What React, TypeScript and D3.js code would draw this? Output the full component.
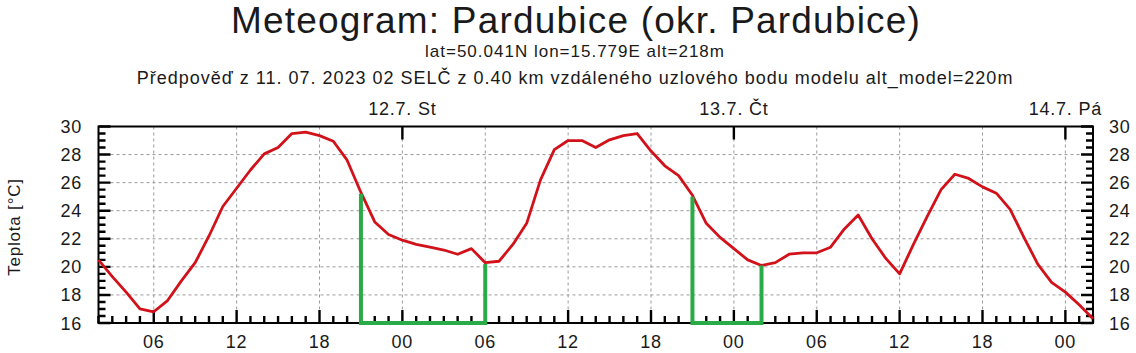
import React from "react";
import * as d3 from "d3";

// Forecast start: 11.7. 02:00 (hours counted from 11.7. 00:00)
const startHour = 2;
const endHour = 74;

// Hourly temperature [°C] from 11.7. 02:00 to 14.7. 02:00
const temperature = [
  20.5, 19.3, 18.2, 17.0, 16.8, 17.6, 19.0, 20.3, 22.2, 24.3,
  25.6, 26.9, 28.05, 28.5, 29.5, 29.6, 29.35, 28.95, 27.6, 25.3,
  23.2, 22.3, 21.9, 21.6, 21.4, 21.2, 20.9, 21.3, 20.3, 20.4,
  21.6, 23.1, 26.2, 28.35, 29.0, 29.0, 28.5, 29.05, 29.35, 29.5,
  28.25, 27.2, 26.5, 25.1, 23.1, 22.1, 21.3, 20.5, 20.1, 20.3,
  20.9, 21.0, 21.0, 21.4, 22.7, 23.7, 22.0, 20.6, 19.5, 21.6,
  23.6, 25.5, 26.6, 26.3, 25.7, 25.25, 24.1, 22.1, 20.2, 18.9,
  18.2, 17.3, 16.3,
];

// Green night markers
const nightStartHour = [21, 45];
const nightEndHour = [30, 50];
const nightStartTemp = [25.2, 25.0];
const nightEndTemp = [20.2, 20.1];

// Day labels (at midnight)
const dayHours = [24, 48, 72];
const dayLabels = ["12.7. St", "13.7. Čt", "14.7. Pá"];

// X tick labels
const xTickHours = [6, 12, 18, 24, 30, 36, 42, 48, 54, 60, 66, 72];
const xTickLabels = ["06", "12", "18", "00", "06", "12", "18", "00", "06", "12", "18", "00"];

// Y ticks
const yTicks = [16, 18, 20, 22, 24, 26, 28, 30];

const titleText = "Meteogram: Pardubice (okr. Pardubice)";
const subtitle1 = "lat=50.041N lon=15.779E alt=218m";
const subtitle2 =
  "Předpověď z 11. 07. 2023 02 SELČ z 0.40 km vzdáleného uzlového bodu modelu alt_model=220m";
const yTitle = "Teplota [°C]";

const W = 1136;
const H = 353;
const left = 98.5;
const right = 1093;
const top = 126.5;
const bottom = 323;

const FONT = "'Liberation Sans', Arial, Helvetica, sans-serif";
const TEXT = "#1a1a1a";

export default function App() {
  const x = d3.scaleLinear().domain([startHour, endHour]).range([left, right]);
  const y = d3.scaleLinear().domain([16, 30]).range([bottom, top]);

  const points = temperature.map((t, i) => [startHour + i, t] as [number, number]);
  const line = d3
    .line<[number, number]>()
    .x((d) => x(d[0]))
    .y((d) => y(d[1]));

  const hourTicks = d3.range(startHour, endHour + 1);
  const halfDegTicks = d3.range(0, 29).map((i) => 16 + i * 0.5);
  const gridHours = xTickHours.filter((h) => h > startHour && h < endHour);
  const gridTemps = yTicks.filter((t) => t > 16 && t < 30);

  // build tick path
  let tickPath = "";
  halfDegTicks.forEach((t, i) => {
    const len = i % 4 === 0 ? 12 : 7;
    const yy = y(t);
    tickPath += `M${left},${yy}H${left + len}M${right},${yy}H${right - len}`;
  });
  hourTicks.forEach((h) => {
    const len = h % 6 === 0 ? 13 : 7;
    const xx = x(h);
    tickPath += `M${xx},${bottom}V${bottom - len}`;
  });
  dayHours.forEach((h) => {
    const xx = x(h);
    tickPath += `M${xx},${top}V${top + 13}`;
  });

  let gridPath = "";
  gridTemps.forEach((t) => {
    gridPath += `M${left},${y(t)}H${right}`;
  });
  gridHours.forEach((h) => {
    gridPath += `M${x(h)},${top}V${bottom}`;
  });

  return (
    <svg
      width={W}
      height={H}
      style={{ position: "absolute", left: 0, top: 0, background: "#fff" }}
      fontFamily={FONT}
    >
      <rect x={0} y={0} width={W} height={H} fill="#fff" />
      {/* titles */}
      <text x={576} y={33} textAnchor="middle" fontSize={37} letterSpacing={1.2} fill={TEXT}>
        {titleText}
      </text>
      <text x={575} y={57} textAnchor="middle" fontSize={17} letterSpacing={1} fill={TEXT}>
        {subtitle1}
      </text>
      <text x={575} y={84} textAnchor="middle" fontSize={18} letterSpacing={1} fill={TEXT}>
        {subtitle2}
      </text>

      {/* grid */}
      <path d={gridPath} fill="none" stroke="#9a9a9a" strokeWidth={1} strokeDasharray="3,3" />

      {/* frame */}
      <rect
        x={left}
        y={top}
        width={right - left}
        height={bottom - top}
        fill="none"
        stroke="#000"
        strokeWidth={2}
      />

      {/* ticks */}
      <path d={tickPath} fill="none" stroke="#000" strokeWidth={2.4} />

      {/* temperature line */}
      <path d={line(points) || ""} fill="none" stroke="#d2121a" strokeWidth={2.8} strokeLinejoin="round" />

      {/* night markers */}
      {nightStartHour.map((s, i) => (
        <path
          key={"n" + i}
          d={`M${x(s)},${y(nightStartTemp[i])}V${y(16)}H${x(nightEndHour[i])}V${y(nightEndTemp[i])}`}
          fill="none"
          stroke="#2bab48"
          strokeWidth={4}
        />
      ))}

      {/* y tick labels */}
      <g fontSize={18} letterSpacing={0.8} fill={TEXT}>
        {yTicks.map((t) => (
          <text key={"yl" + t} x={82} y={y(t) + 6.5} textAnchor="end">
            {t}
          </text>
        ))}
        {yTicks.map((t) => (
          <text key={"yr" + t} x={1109} y={y(t) + 6.5} textAnchor="start">
            {t}
          </text>
        ))}
      </g>

      {/* x tick labels */}
      <g fontSize={18} letterSpacing={0.8} fill={TEXT} textAnchor="middle">
        {xTickHours.map((h, i) => (
          <text key={"xl" + h} x={x(h)} y={348}>
            {xTickLabels[i]}
          </text>
        ))}
      </g>

      {/* day labels */}
      <g fontSize={18} letterSpacing={0.8} fill={TEXT} textAnchor="middle">
        {dayHours.map((h, i) => (
          <text key={"dl" + h} x={x(h)} y={115}>
            {dayLabels[i]}
          </text>
        ))}
      </g>

      {/* y axis title */}
      <text
        transform={`translate(19.5,227) rotate(-90)`}
        textAnchor="middle"
        fontSize={17}
        letterSpacing={0.8}
        fill={TEXT}
      >
        {yTitle}
      </text>
    </svg>
  );
}
